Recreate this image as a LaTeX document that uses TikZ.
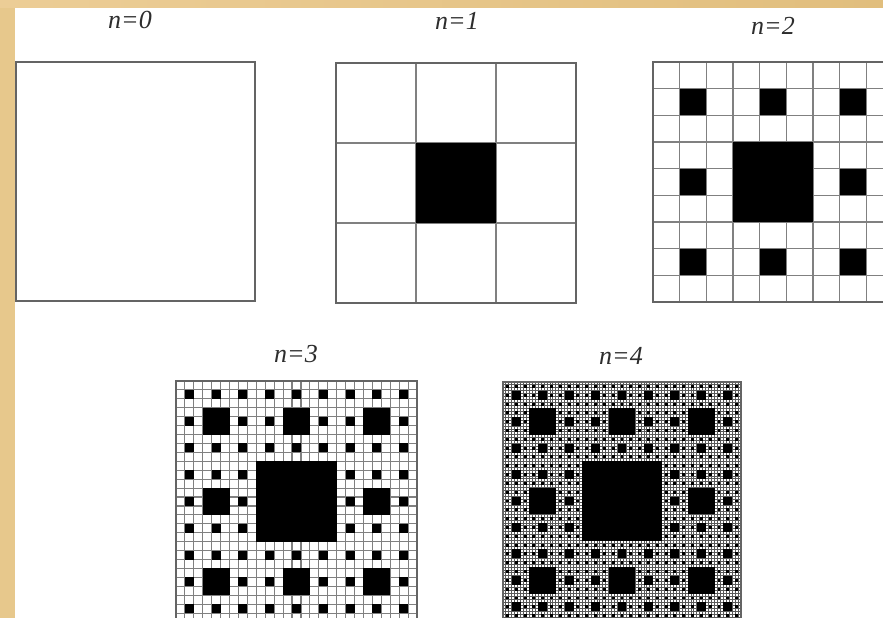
\documentclass[tikz,border=0pt]{standalone}
\usepackage{fontspec}
\setmainfont{Liberation Serif}
\begin{document}
\begin{tikzpicture}[x=1pt,y=-1pt,
  gold/.style={fill={rgb,255:red,231;green,200;blue,140}},
  lbl/.style={font=\fontsize{26}{28}\selectfont\itshape, text={rgb,255:red,45;green,45;blue,45}, inner sep=0pt},
  outerbox/.style={draw={rgb,255:red,100;green,100;blue,100}, line width=1.6pt},
  gridline/.style={draw={rgb,255:red,130;green,130;blue,130}}]
\clip (0,0) rectangle (883,618);
\useasboundingbox (0,0) rectangle (883,618);
\fill[gold] (0,0) rectangle (883,618);
\shade[left color={rgb,255:red,236;green,205;blue,150}, right color={rgb,255:red,225;green,190;blue,125}] (0,0) rectangle (883,8);
\fill[white] (15,8) rectangle (883,618);
% carpet macro: x0, y0, L, n, grid line width, grid line grey level
\newcommand\mycarpet[6]{%
 \begin{scope}[shift={(#1,#2)}]
  \pgfmathtruncatemacro\NN{3^#4}
  \pgfmathsetmacro\cs{#3/\NN}
  \ifnum\NN>1
   \pgfmathtruncatemacro\NNm{\NN-1}
   \foreach \k in {1,...,\NNm}{%
     \draw[gridline, line width=#5, draw=black!#6] (\k*\cs,0) -- (\k*\cs,#3);
     \draw[gridline, line width=#5, draw=black!#6] (0,\k*\cs) -- (#3,\k*\cs);
   }
   \foreach \k in {1,...,#4}{%
     \pgfmathtruncatemacro\mm{3^(\k-1)-1}
     \pgfmathsetmacro\ss{#3/(3^\k)}
     \foreach \i in {0,...,\mm}{%
       \foreach \j in {0,...,\mm}{%
         \fill[black] ({(3*\i+1)*\ss},{(3*\j+1)*\ss}) rectangle ++(\ss,\ss);
       }
     }
   }
  \fi
  \draw[outerbox] (0,0) rectangle (#3,#3);
 \end{scope}}
\mycarpet{16}{62}{239}{0}{1pt}{50}
\mycarpet{336}{63}{240}{1}{1.3pt}{50}
\mycarpet{653}{62}{240}{2}{1.3pt}{50}
\mycarpet{176}{381}{241}{3}{1.1pt}{50}
\mycarpet{503}{382}{238}{4}{1pt}{65}
\node[lbl] (l0) at (130,20) {n=0};
\node[lbl] (l1) at (457,21) {n=1};
\node[lbl] (l2) at (773,26) {n=2};
\node[lbl] (l3) at (296,354) {n=3};
\node[lbl] (l4) at (621,356) {n=4};
\end{tikzpicture}
\end{document}
